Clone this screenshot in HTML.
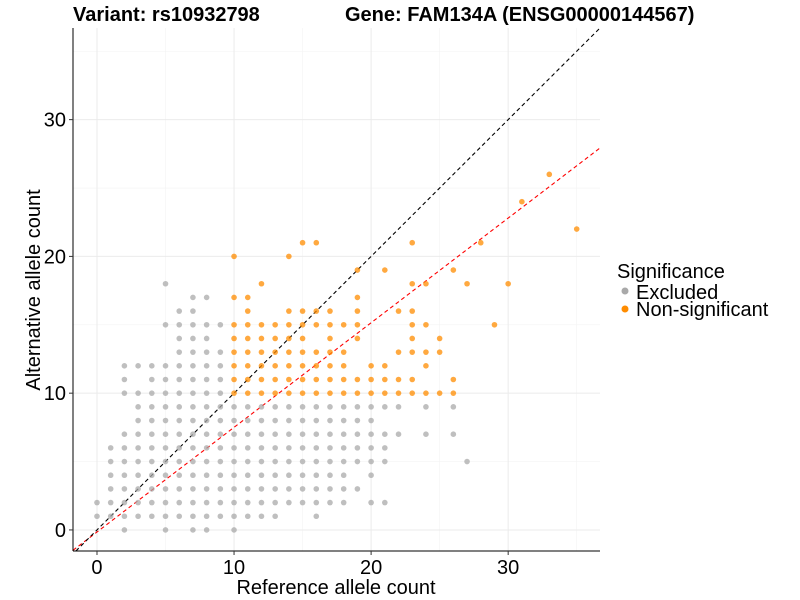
<!DOCTYPE html>
<html><head><meta charset="utf-8"><style>
body{margin:0;background:#fff;font-family:"Liberation Sans",Arial,sans-serif;}
svg{display:block}
</style></head><body>
<svg id="chart" width="800" height="600" xmlns="http://www.w3.org/2000/svg">
<g id="grid"></g>
<g id="lines"></g>
<g id="pts"></g>
<g id="axes"></g>
<text x="73" y="21" font-size="20" font-weight="bold" fill="#000">Variant: rs10932798</text>
<text x="345" y="21" font-size="20" font-weight="bold" fill="#000">Gene: FAM134A (ENSG00000144567)</text>
<text x="336" y="594" font-size="20" text-anchor="middle" fill="#000">Reference allele count</text>
<text transform="translate(40,290) rotate(-90)" font-size="20" text-anchor="middle" fill="#000">Alternative allele count</text>
<g>
<text x="617" y="278" font-size="20" fill="#000">Significance</text>
<circle cx="625" cy="291" r="3.5" fill="#a9a9a9"/>
<text x="636" y="299" font-size="20" fill="#000">Excluded</text>
<circle cx="625" cy="309" r="3.5" fill="#ff8c00"/>
<text x="636" y="316" font-size="20" fill="#000">Non-significant</text>
</g>
</svg>
<script>
const xTicks=[0,10,20,30];
const yTicks=[0,10,20,30];
const minorTicks=[5,15,25,35];
const excludedYs=[0,1,2,3,4,5,6,7,8,9,10,11,12,13,14,15,16,17,18];
const excludedXs=[
[2,5,7,8,10],
[0,1,2,3,4,5,6,7,8,9,10,11,12,13,16],
[0,1,2,3,4,5,6,7,8,9,10,11,12,13,14,15,16,17,18,20,21],
[1,2,3,4,5,6,7,8,9,10,11,12,13,14,15,16,17,18,19],
[1,2,3,4,5,6,7,8,9,10,11,12,13,14,15,16,17,18,20],
[1,2,3,4,5,6,7,8,9,10,11,12,13,14,15,16,17,18,19,20,21,27],
[1,2,3,4,5,6,7,8,9,10,11,12,13,14,15,16,17,18,19,20,21],
[2,3,4,5,6,7,8,9,10,11,12,13,14,15,16,17,18,19,20,21,22,24,26],
[3,4,5,6,7,8,9,10,11,12,13,14,15,16,17,18,19,20],
[3,4,5,6,7,8,9,10,11,12,13,14,15,16,17,18,19,20,21,22,24,26],
[2,3,4,5,6,7,8,9],
[2,4,5,6,7,8,9],
[2,3,4,5,6,7,8,9],
[6,7,8,9],
[6,7,8],
[5,6,7,8,9],
[6,7],
[7,8],
[5]
];
const nonsigYs=[10,11,12,13,14,15,16,17,18,19,20,21,22,24,26];
const nonsigXs=[
[10,11,12,13,14,15,16,17,18,19,20,21,22,23,24,25,26],
[10,11,12,13,14,15,16,17,18,19,20,21,22,23,26],
[10,11,12,13,14,15,16,17,18,20,21,24],
[10,11,12,13,14,15,16,17,18,22,23,24,25],
[10,11,12,13,14,15,17,19,23,25],
[10,11,12,13,14,15,16,17,18,19,23,24,29],
[11,14,15,16,17,19,22,23],
[10,11,19],
[12,23,24,27,30],
[19,21,26],
[10,14],
[15,16,23,28],
[35],
[31],
[33]
];
const diagSlope=1, diagIntercept=0;
const fitSlope=0.765, fitIntercept=-0.15;

const X0=-1.75,X1=36.7,Y0=-1.54,Y1=36.7;
const L=73,R=600,T=28,B=551;
const sx=v=>L+(v-X0)/(X1-X0)*(R-L);
const sy=v=>B-(v-Y0)/(Y1-Y0)*(B-T);
const NS="http://www.w3.org/2000/svg";
function mk(tag,attrs,parent){const e=document.createElementNS(NS,tag);for(const k in attrs)e.setAttribute(k,attrs[k]);parent.appendChild(e);return e;}
const grid=document.getElementById('grid');
minorTicks.forEach(t=>{
 const a=mk('line',{x1:sx(t),x2:sx(t),y1:T,y2:B,stroke:'#f3f3f3','stroke-width':0.6},grid);
 
 const b=mk('line',{x1:L,x2:R,y1:sy(t),y2:sy(t),stroke:'#f3f3f3','stroke-width':0.6},grid);
 
});
xTicks.forEach(t=>{
 const a=mk('line',{x1:sx(t),x2:sx(t),y1:T,y2:B,stroke:'#ebebeb','stroke-width':1},grid);
 
});
yTicks.forEach(t=>{
 const b=mk('line',{x1:L,x2:R,y1:sy(t),y2:sy(t),stroke:'#ebebeb','stroke-width':1},grid);
 
});
const lines=document.getElementById('lines');
function refLine(s,i,col,name){
 let xa=X0,xb=X1,ya=s*xa+i,yb=s*xb+i;
 if(yb>Y1){yb=Y1;xb=(Y1-i)/s;}
 if(ya<Y0){ya=Y0;xa=(Y0-i)/s;}
 const l=mk('line',{x1:sx(xa),y1:sy(ya),x2:sx(xb),y2:sy(yb),stroke:col,'stroke-width':1.1,'stroke-dasharray':'4,3'},lines);
 
}
const pts=document.getElementById('pts');
excludedYs.forEach((y,i)=>excludedXs[i].forEach(x=>{
 const c=mk('circle',{cx:sx(x),cy:sy(y),r:2.8,fill:'#a9a9a9','fill-opacity':0.75},pts);
 
}));
nonsigYs.forEach((y,i)=>nonsigXs[i].forEach(x=>{
 const c=mk('circle',{cx:sx(x),cy:sy(y),r:2.8,fill:'#ff8c00','fill-opacity':0.75},pts);
 
}));
refLine(fitSlope,fitIntercept,'#ff0000','fit-line');
refLine(diagSlope,diagIntercept,'#000000','identity-line');
const axes=document.getElementById('axes');
const ax=mk('line',{x1:L,x2:L,y1:T,y2:B,stroke:'#000','stroke-width':1},axes);

const bx=mk('line',{x1:L,x2:R,y1:B,y2:B,stroke:'#000','stroke-width':1},axes);

xTicks.forEach(t=>{
 const tk=mk('line',{x1:sx(t),x2:sx(t),y1:B,y2:B+4,stroke:'#333'},axes);
 
 const tx=mk('text',{x:sx(t),y:B+23,'font-size':20,'text-anchor':'middle',fill:'#000'},axes);
 tx.textContent=t;
 
});
yTicks.forEach(t=>{
 const tk=mk('line',{x1:L-4,x2:L,y1:sy(t),y2:sy(t),stroke:'#333'},axes);
 
 const tx=mk('text',{x:L-7,y:sy(t)+7,'font-size':20,'text-anchor':'end',fill:'#000'},axes);
 tx.textContent=t;
 
});
</script>
</body></html>
